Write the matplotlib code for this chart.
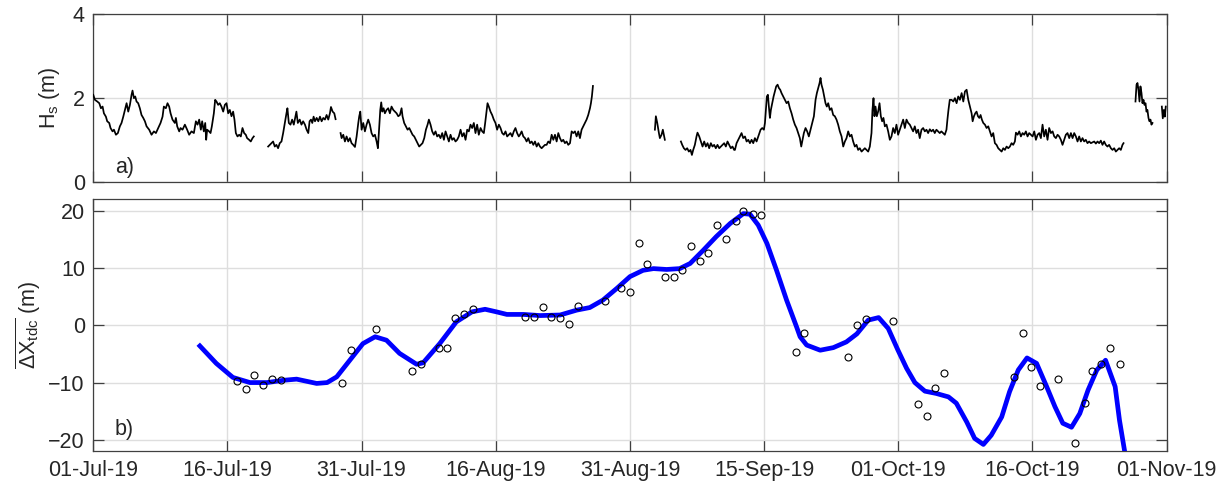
import numpy as np
import matplotlib
matplotlib.use("Agg")
import matplotlib.pyplot as plt
import matplotlib.dates as mdates
from matplotlib.ticker import FixedLocator

plt.rcParams['font.family'] = ['Liberation Sans', 'DejaVu Sans']
plt.rcParams['mathtext.fontset'] = 'custom'
plt.rcParams['mathtext.rm'] = 'Liberation Sans'
plt.rcParams['mathtext.it'] = 'Liberation Sans:italic'
plt.rcParams['mathtext.bf'] = 'Liberation Sans:bold'

START = np.datetime64('2019-07-01')
END = np.datetime64('2019-11-01')
nan = np.nan

# Significant wave height, time in days since 01-Jul-2019 (nan marks data gaps)
hs_day = [
    0.00, 0.19, 0.46, 0.69, 0.88, 1.07, 1.22, 1.45, 1.60, 1.83, 1.98, 2.21, 2.37, 2.60, 2.82, 3.05,
    3.24, 3.44, 3.63, 3.82, 4.01, 4.20, 4.39, 4.50, 4.66, 4.81, 4.96, 5.15, 5.34, 5.53, 5.73, 5.92,
    6.11, 6.41, 6.68, 6.95, 7.18, 7.44, 7.71, 7.94, 8.09, 8.32, 8.51, 8.70, 8.86, 9.08, 9.35, 9.47,
    9.62, 9.85, 10.00, 10.23, 10.50, 10.76, 10.99, 11.26, 11.53, 11.76, 11.95, 12.14, 12.33, 12.48,
    12.67, 12.83, 12.94, 13.05, 13.28, 13.44, 13.59, 13.82, 13.97, 14.12, 14.31, 14.50, 14.69, 14.89,
    15.08, 15.27, 15.46, 15.65, 15.84, 16.03, 16.18, 16.34, 16.53, 16.72, 16.91, 17.10, 17.29, 17.48,
    17.63, 17.86, 18.05, 18.25, 18.40,
    19.2,
    20.04, 20.23, 20.42, 20.61, 20.80, 20.99, 21.18, 21.37, 21.57, 21.76, 21.95, 22.14, 22.25, 22.41,
    22.60, 22.79, 22.98, 23.17, 23.28, 23.44, 23.66, 23.86, 24.05, 24.26, 24.45, 24.64, 24.79, 24.95,
    25.10, 25.25, 25.41, 25.60, 25.79, 25.98, 26.17, 26.36, 26.55, 26.74, 26.93, 27.12, 27.24, 27.43,
    27.62, 27.77,
    28.0,
    28.34, 28.46, 28.65, 28.84, 29.03, 29.22, 29.41, 29.60, 29.79, 29.99, 30.18, 30.37, 30.48, 30.60,
    30.75, 30.94, 31.13, 31.32, 31.51, 31.70, 31.89, 32.08, 32.28, 32.47, 32.62, 32.77, 32.89, 33.00,
    33.12, 33.27, 33.42, 33.61, 33.80, 33.99, 34.18, 34.38, 34.57, 34.76, 34.95, 35.14, 35.33, 35.44,
    35.63, 35.83, 36.02, 36.21, 36.40, 36.59, 36.78, 36.97, 37.16, 37.35, 37.54, 37.73, 37.93, 38.12,
    38.31, 38.46, 38.65, 38.84, 39.03, 39.22, 39.41, 39.60, 39.79, 39.99, 40.18, 40.37, 40.56, 40.75,
    40.94, 41.13, 41.32, 41.51, 41.70, 41.89, 42.09, 42.28, 42.47, 42.66, 42.85, 43.04, 43.23, 43.42,
    43.61, 43.80, 43.99, 44.18, 44.38, 44.57, 44.76, 44.91, 45.06, 45.18, 45.33, 45.52, 45.71, 45.90,
    46.09, 46.28, 46.48, 46.67, 46.86, 47.05, 47.24, 47.43, 47.62, 47.81, 48.00, 48.19, 48.38, 48.57,
    48.76, 48.90, 49.09, 49.28, 49.47, 49.66, 49.85, 50.05, 50.24, 50.43, 50.62, 50.81, 51.00, 51.19,
    51.38, 51.57, 51.76, 51.95, 52.14, 52.34, 52.53, 52.72, 52.91, 53.10, 53.29, 53.48, 53.67, 53.86,
    54.05, 54.24, 54.43, 54.63, 54.82, 55.01, 55.20, 55.39, 55.58, 55.77, 55.96, 56.15, 56.34, 56.53,
    56.72, 56.92, 57.03, 57.14, 57.26,
    60.0,
    64.36, 64.47, 64.63, 64.82, 64.93, 65.12, 65.27, 65.39, 65.50,
    66.5,
    67.34, 67.49, 67.68, 67.87, 68.06, 68.25, 68.44, 68.60, 68.75, 68.94, 69.13, 69.24, 69.44, 69.63,
    69.82, 70.01, 70.20, 70.39, 70.58, 70.77, 70.96, 71.15, 71.34, 71.53, 71.73, 71.92, 72.11, 72.30,
    72.49, 72.68, 72.87, 73.06, 73.25, 73.44, 73.53, 73.72, 73.91, 74.10, 74.29, 74.48, 74.68, 74.87,
    75.06, 75.25, 75.44, 75.63, 75.82, 76.01, 76.28, 76.47, 76.66, 76.85, 76.97, 77.08, 77.19, 77.31,
    77.42, 77.54, 77.65, 77.80, 77.96, 78.11, 78.26, 78.42, 78.57, 78.72, 78.87, 79.06, 79.26, 79.45,
    79.64, 79.83, 80.02, 80.21, 80.40, 80.59, 80.78, 80.97, 81.13, 81.28, 81.43, 81.62, 81.81, 82.00,
    82.19, 82.39, 82.58, 82.77, 82.92, 83.07, 83.23, 83.34, 83.45, 83.61, 83.76, 83.91, 84.06, 84.22,
    84.41, 84.60, 84.79, 84.98, 85.17, 85.36, 85.55, 85.75, 85.94, 86.13, 86.32, 86.51, 86.70, 86.89,
    87.08, 87.27, 87.46, 87.65, 87.84, 88.04, 88.23, 88.42, 88.61, 88.80, 88.99, 89.18, 89.29, 89.41,
    89.52, 89.64, 89.79, 89.94, 90.10, 90.25, 90.40, 90.55, 90.71, 90.90, 91.09, 91.28, 91.47, 91.66,
    91.85, 92.04, 92.23, 92.42, 92.62, 92.81, 93.00, 93.19, 93.38, 93.57, 93.76, 93.95, 94.14, 94.33,
    94.52, 94.71, 94.91, 95.10, 95.29, 95.48, 95.67, 95.86, 96.05, 96.24, 96.43, 96.62, 96.81, 97.00,
    97.19, 97.39, 97.58, 97.77, 97.88, 98.00, 98.15, 98.36, 98.55, 98.74, 98.93, 99.12, 99.31, 99.51,
    99.70, 99.89, 100.08, 100.27, 100.46, 100.65, 100.77, 100.92, 101.07, 101.22, 101.38, 101.53,
    101.68, 101.83, 101.99, 102.18, 102.37, 102.56, 102.75, 102.94, 103.13, 103.32, 103.51, 103.70,
    103.90, 104.09, 104.28, 104.47, 104.66, 104.85, 105.04, 105.23, 105.42, 105.61, 105.73, 105.92,
    106.11, 106.30, 106.49, 106.68, 106.87, 107.06, 107.25, 107.45, 107.64, 107.83, 108.02, 108.21,
    108.40, 108.59, 108.78, 108.97, 109.16, 109.35, 109.54, 109.74, 109.93, 110.12, 110.31, 110.50,
    110.69, 110.88, 111.07, 111.26, 111.45, 111.64, 111.84, 112.03, 112.22, 112.41, 112.60, 112.79,
    112.98, 113.17, 113.36, 113.55, 113.74, 113.93, 114.12, 114.32, 114.51, 114.70, 114.89, 115.08,
    115.27, 115.46, 115.65, 115.84, 116.03, 116.22, 116.41, 116.61, 116.80, 116.99, 117.18, 117.37,
    117.56, 117.75, 117.94, 118.06,
    118.8,
    119.43, 119.55, 119.66, 119.77, 119.89, 120.00, 120.12, 120.23, 120.35, 120.46, 120.58, 120.69,
    120.80, 120.92, 121.03, 121.15, 121.26, 121.38,
    122.0,
    122.45, 122.56, 122.68, 122.79, 122.90,
]
hs_val = [
    2.08, 1.96, 1.92, 1.88, 1.76, 1.80, 1.64, 1.56, 1.45, 1.41, 1.29, 1.21, 1.25, 1.13, 1.17, 1.33,
    1.41, 1.56, 1.72, 1.88, 1.68, 1.84, 2.08, 2.18, 2.00, 2.04, 1.92, 1.88, 1.76, 1.60, 1.53, 1.45,
    1.33, 1.25, 1.13, 1.21, 1.17, 1.29, 1.41, 1.56, 1.80, 1.76, 1.88, 1.80, 1.64, 1.49, 1.41, 1.53,
    1.33, 1.21, 1.29, 1.25, 1.37, 1.25, 1.13, 1.21, 1.17, 1.45, 1.37, 1.49, 1.25, 1.45,
    1.21, 1.41, 1.01, 1.25, 1.21, 1.17, 1.33, 1.64, 1.96, 1.92, 1.84, 1.88, 1.80, 1.68,
    1.84, 1.88, 1.64, 1.72, 1.57, 1.68, 1.49, 1.17, 1.09, 1.13, 1.09, 1.29, 1.17, 1.13,
    1.05, 1.01, 0.97, 1.05, 1.09,
    nan,
    0.85, 0.89, 0.93, 0.97, 0.85, 0.89, 0.81, 0.93, 0.97, 1.17, 1.41, 1.64, 1.76, 1.41,
    1.37, 1.49, 1.37, 1.56, 1.68, 1.41, 1.49, 1.37, 1.45, 1.37, 1.25, 1.17, 1.45, 1.49,
    1.41, 1.56, 1.45, 1.53, 1.45, 1.56, 1.45, 1.53, 1.49, 1.60, 1.49, 1.64, 1.79, 1.68,
    1.64, 1.50,
    nan,
    1.17, 1.05, 1.13, 0.97, 1.09, 0.97, 1.05, 0.93, 0.89, 0.84, 1.09, 1.41, 1.57, 1.68,
    1.25, 1.41, 1.21, 1.37, 1.49, 1.37, 1.17, 1.09, 1.13, 0.97, 0.81, 1.33, 1.72, 1.90,
    1.68, 1.76, 1.64, 1.72, 1.76, 1.64, 1.80, 1.72, 1.68, 1.64, 1.57, 1.60, 1.76, 1.57,
    1.41, 1.33, 1.25, 1.29, 1.21, 1.13, 1.09, 1.01, 0.93, 0.85, 0.89, 0.93, 1.05, 1.25,
    1.37, 1.49, 1.37, 1.21, 1.13, 1.21, 1.09, 1.13, 1.05, 1.17, 1.01, 1.21, 1.09, 0.97,
    1.13, 1.01, 1.05, 0.97, 1.01, 1.09, 1.25, 1.09, 1.17, 1.01, 1.25, 1.21, 1.37, 1.29,
    1.41, 1.17, 1.37, 1.13, 1.29, 1.21, 1.17, 1.41, 1.68, 1.88, 1.80, 1.68, 1.60, 1.49,
    1.41, 1.25, 1.37, 1.29, 1.17, 1.13, 1.21, 1.09, 1.13, 1.17, 1.09, 1.21, 1.29, 1.17,
    1.09, 1.13, 1.21, 1.09, 1.05, 0.97, 1.05, 0.93, 0.97, 0.89, 0.97, 0.85, 0.93, 0.85,
    0.81, 0.85, 0.89, 0.89, 0.97, 0.93, 1.13, 1.01, 1.13, 0.97, 1.17, 1.05, 0.97, 1.01,
    0.93, 0.97, 0.89, 0.93, 1.21, 1.17, 1.21, 1.09, 1.21, 1.05, 1.25, 1.33, 1.41, 1.49,
    1.60, 1.76, 1.88, 2.04, 2.29,
    nan,
    1.25, 1.57, 1.41, 1.17, 1.05, 1.13, 1.25, 1.13, 1.01,
    nan,
    0.97, 0.89, 0.81, 0.77, 0.81, 0.73, 0.77, 0.65, 0.77, 0.89, 1.09, 1.18, 1.09, 0.97,
    0.85, 0.97, 0.85, 0.93, 0.81, 0.93, 0.85, 0.89, 0.81, 0.89, 0.81, 0.85, 0.89, 0.93,
    0.85, 0.97, 0.89, 0.81, 0.85, 0.77, 0.77, 0.93, 1.01, 1.09, 1.17, 1.05, 1.09, 0.97,
    1.01, 0.93, 1.01, 0.93, 1.05, 0.97, 1.13, 1.25, 1.29, 1.25, 1.41, 1.72, 2.04, 2.08,
    1.80, 1.53, 1.72, 1.88, 2.04, 2.16, 2.28, 2.32, 2.24, 2.20, 2.12, 2.04, 1.96, 1.88,
    1.92, 1.76, 1.64, 1.49, 1.37, 1.29, 1.17, 1.05, 0.85, 1.01, 1.17, 1.29, 1.21, 1.09,
    1.25, 1.41, 1.57, 1.96, 2.12, 2.24, 2.36, 2.48, 2.32, 2.20, 2.04, 1.88, 1.80, 1.88,
    1.72, 1.76, 1.60, 1.57, 1.49, 1.37, 1.21, 1.09, 0.85, 0.97, 1.05, 1.21, 1.09, 1.13,
    0.97, 0.85, 0.89, 0.77, 0.81, 0.73, 0.77, 0.81, 0.77, 0.73, 0.85, 1.17, 1.72, 2.00,
    1.57, 1.80, 1.57, 1.68, 1.88, 1.57, 1.45, 1.53, 1.33, 1.37, 1.21, 1.01, 1.09, 1.29,
    1.17, 1.37, 1.13, 1.25, 1.37, 1.49, 1.29, 1.49, 1.41, 1.37, 1.29, 1.21, 1.33, 1.17,
    1.25, 1.05, 1.25, 1.29, 1.21, 1.25, 1.17, 1.26, 1.21, 1.25, 1.17, 1.25, 1.21, 1.17,
    1.21, 1.17, 1.13, 1.25, 1.49, 1.72, 1.96, 1.96, 1.92, 2.00, 1.88, 2.04, 1.96, 2.12,
    1.92, 2.16, 2.20, 1.96, 1.80, 1.64, 1.45, 1.57, 1.64, 1.68, 1.57, 1.53,
    1.60, 1.49, 1.41, 1.37, 1.29, 1.33, 1.21, 1.09, 1.17, 0.93, 0.89, 0.81,
    0.77, 0.73, 0.81, 0.77, 0.85, 0.81, 0.85, 0.93, 0.89, 0.97, 1.18, 1.13,
    1.21, 1.09, 1.17, 1.13, 1.21, 1.09, 1.17, 1.13, 1.09, 1.21, 1.01, 1.13,
    1.17, 1.05, 1.37, 1.09, 1.25, 1.01, 1.29, 1.17, 1.21, 1.09, 1.05, 1.13,
    1.09, 1.01, 0.89, 1.01, 1.13, 1.17, 1.05, 1.17, 1.05, 1.17, 1.09, 0.97,
    1.09, 0.97, 1.05, 0.97, 1.01, 0.93, 0.97, 0.93, 0.95, 0.97, 0.92, 0.97,
    0.93, 0.99, 0.89, 0.97, 0.89, 0.85, 0.89, 0.81, 0.77, 0.81, 0.73, 0.77,
    0.81, 0.77, 0.89, 0.93,
    nan,
    1.92, 2.32, 2.36, 2.20, 1.92, 2.28, 2.12, 1.88, 1.96, 1.84, 1.88, 1.68,
    1.72, 1.53, 1.45, 1.49, 1.37, 1.41,
    nan,
    1.80, 1.52, 1.72, 1.56, 1.80,
]

# Daily shoreline change estimates (m)
obs_day = [16.5, 17.5, 18.45, 19.5, 20.5, 21.5, 28.5, 29.5, 32.4, 36.5, 37.5, 39.6, 40.5, 41.5,
           42.5, 43.5, 49.5, 50.5, 51.5, 52.5, 53.5, 54.5, 55.5, 58.6, 60.5, 61.5, 62.5, 63.5,
           65.5, 66.5, 67.5, 68.5, 69.5, 70.5, 71.5, 72.5, 73.6, 74.5, 75.6, 76.5, 80.5, 81.5,
           86.5, 87.5, 88.5, 91.6, 94.5, 95.5, 96.5, 97.5, 105.5, 106.5, 107.5, 108.5, 110.5,
           112.5, 113.6, 114.5, 115.5, 116.5, 117.6]
obs_dx = [-9.7, -11.1, -8.6, -10.5, -9.4, -9.6, -10.0, -4.3, -0.7, -8.0, -6.7, -3.9, -4.0, 1.3,
          1.9, 2.8, 1.4, 1.4, 3.2, 1.4, 1.3, 0.3, 3.35, 4.2, 6.5, 5.75, 14.3, 10.7,
          8.4, 8.4, 9.6, 13.8, 11.2, 12.6, 17.6, 15.1, 18.2, 20.0, 19.4, 19.2, -4.7, -1.4,
          -5.45, 0.1, 1.1, 0.7, -13.7, -15.9, -11.0, -8.3, -9.0, -1.4, -7.2, -10.6, -9.3,
          -20.5, -13.6, -7.9, -6.7, -3.9, -6.8]

# Smoothed shoreline change (m)
fit_day = [12.03, 14.1, 16.0, 17.96, 19.9, 21.8, 23.3, 25.6, 26.8, 27.9, 29.4, 30.9, 32.3, 33.6,
           35.1, 37.05, 37.8, 39.7, 41.6, 43.4, 44.9, 46.2, 47.4, 49.3, 51.2, 53.5, 55.4, 56.9,
           58.4, 60.0, 61.5, 63.0, 64.2, 65.7, 67.2, 68.4, 69.9, 71.4, 73.0, 74.5, 75.25, 76.2,
           77.2, 78.3, 79.45, 80.6, 81.0, 81.75, 83.3, 84.8, 86.3, 87.5, 88.8, 90.0, 91.1, 92.2,
           93.2, 94.15, 95.3, 96.6, 98.0, 98.9, 100.1, 101.0, 102.0, 102.9, 104.1, 105.0, 106.0,
           107.0, 108.1, 109.25, 110.2, 111.1, 112.1, 113.05, 114.0, 115.0, 116.0, 117.1, 117.6,
           118.2, 118.4]
fit_dx = [-3.3, -6.65, -9.1, -10.0, -10.0, -9.6, -9.4, -10.15, -10.0, -9.0, -6.1, -3.2, -2.0, -2.6,
          -4.9, -6.8, -6.55, -3.2, 0.6, 2.35, 2.8, 2.35, 1.9, 1.9, 1.7, 1.8, 2.65, 3.1,
          4.4, 6.45, 8.5, 9.6, 9.9, 9.75, 9.9, 10.8, 13.1, 15.5, 17.8, 19.5, 19.4, 17.5,
          14.3, 9.6, 4.4, -0.3, -2.0, -3.45, -4.35, -3.9, -2.9, -1.5, 0.9, 1.35, -0.55, -4.3,
          -7.5, -10.0, -11.5, -11.9, -12.5, -13.6, -16.9, -19.75, -20.8, -19.2, -16.0, -11.6, -7.8,
          -5.7, -6.65, -10.7, -14.2, -17.1, -17.8, -15.4, -11.3, -7.8, -6.1, -10.7, -16.6,
          -22.1, -24.0]


def to_dates(days):
    base = mdates.date2num(START)
    return base + np.asarray(days, dtype=float)


FS = 15.5
SPINE = '#404040'
GRID = '#dedede'

fig = plt.figure(figsize=(12.27, 4.86), dpi=100)
ax1 = fig.add_axes([0.0760, 0.6249, 0.8748, 0.3463])
ax2 = fig.add_axes([0.0760, 0.0714, 0.8748, 0.5185])

x0 = mdates.date2num(START)
x1 = mdates.date2num(END)
xticks = np.linspace(x0, x1, 9)

for ax in (ax1, ax2):
    ax.set_xlim(x0, x1)
    ax.xaxis.set_major_locator(FixedLocator(xticks))
    ax.xaxis.set_major_formatter(mdates.DateFormatter('%d-%b-%y'))
    ax.grid(True, color=GRID, linewidth=1.0, zorder=0)
    ax.set_axisbelow(True)
    ax.tick_params(direction='in', length=8, width=0.9, colors=SPINE,
                   labelcolor='#262626', labelsize=FS, top=True, right=True, pad=6)
    for s in ax.spines.values():
        s.set_color(SPINE)
        s.set_linewidth(0.9)

# a) wave height
ax1.plot(to_dates(hs_day), hs_val, color='black', linewidth=1.25, zorder=3)
ax1.set_ylim(0, 4)
ax1.set_yticks([0, 2, 4])
ax1.tick_params(labelbottom=False)
ax1.set_ylabel(r'H$_\mathrm{s}$ (m)', fontsize=FS, color='#262626', labelpad=8)
ax1.text(0.020, 0.09, 'a)', transform=ax1.transAxes, fontsize=FS, va='center', ha='left',
         color='#262626')

# b) shoreline change
ax2.plot(to_dates(fit_day), fit_dx, color='#0000ff', linewidth=3.4, zorder=3,
         solid_joinstyle='round', solid_capstyle='butt')
ax2.plot(to_dates(obs_day), obs_dx, linestyle='none', marker='o', markersize=5,
         markerfacecolor='none', markeredgecolor='black', markeredgewidth=0.8, zorder=4)
ax2.set_ylim(-22, 22)
ax2.set_yticks([-20, -10, 0, 10, 20])
ax2.set_ylabel(r'$\overline{\mathrm{\Delta X_{tdc}}}$ (m)', fontsize=FS, color='#262626',
               labelpad=4)
ax2.text(0.020, 0.088, 'b)', transform=ax2.transAxes, fontsize=FS, va='center', ha='left',
         color='#262626')

fig.savefig('out.png', dpi=100)
